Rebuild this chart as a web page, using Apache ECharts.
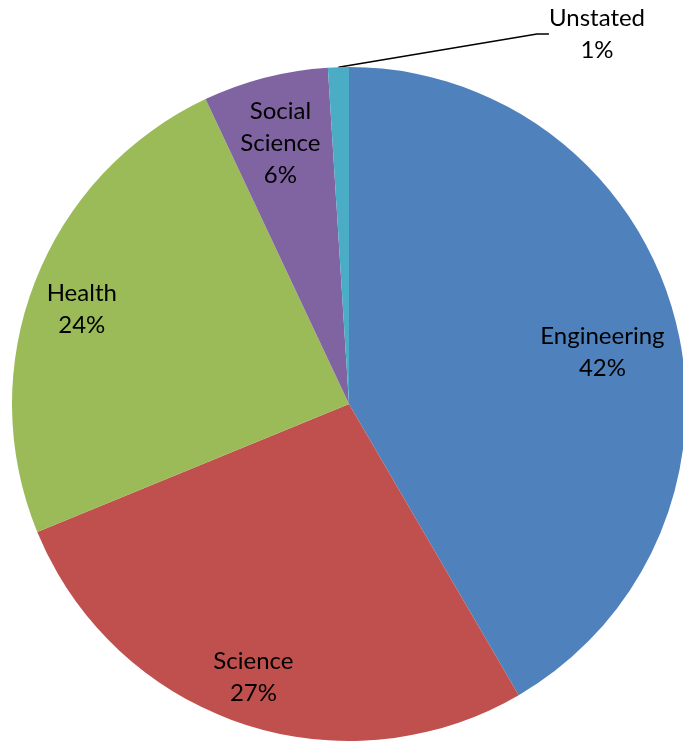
<!DOCTYPE html>
<html>
<head>
<meta charset="utf-8">
<script src="https://cdn.jsdelivr.net/npm/echarts@6/dist/echarts.min.js"></script>
<style>
html,body{margin:0;padding:0;background:#fff;}
#chart{width:683px;height:741px;}
</style>
</head>
<body>
<div id="chart"></div>
<script>
const categories = ['Engineering', 'Science', 'Health', 'Social Science', 'Unstated'];
const values = [41.6, 27.2, 24.2, 6.0, 1.0];
const colors = ['#4F81BD', '#C0504D', '#9BBB59', '#8064A2', '#4BACC6'];

// label nudges (layout only)
const labelNudge = {
  'Engineering': [-13, 20],
  'Science': [-7, 12],
  'Health': [-10, 5],
  'Social Science': [0, 7]
};

const FONT = 'Lato';
const CENTER = [349, 404];
const R = 337;

const chart = echarts.init(document.getElementById('chart'), null, {renderer: 'canvas'});

const pieData = categories.map((c, i) => ({
  name: c, value: values[i], itemStyle: {color: colors[i]}
}));

const labelData = categories.map((c, i) => {
  const d = {name: c, value: values[i]};
  if (c === 'Unstated') {
    d.label = {position: 'outside'};
    d.labelLine = {show: true, length: 20, length2: 12, lineStyle: {color: '#000', width: 1.6}};
  } else if (labelNudge[c]) {
    d.label = {offset: labelNudge[c]};
  }
  return d;
});

chart.setOption({
  animation: false,
  series: [
    {
      type: 'pie',
      center: CENTER,
      radius: [0, R],
      startAngle: 90,
      clockwise: true,
      silent: true,
      label: {show: false},
      labelLine: {show: false},
      itemStyle: {borderWidth: 0},
      data: pieData
    },
    {
      type: 'pie',
      center: CENTER,
      radius: [R * 0.62, R],
      startAngle: 90,
      clockwise: true,
      silent: true,
      percentPrecision: 0,
      itemStyle: {color: 'rgba(0,0,0,0)', borderWidth: 0},
      label: {
        show: true,
        position: 'inside',
        formatter: p => p.name.replace(' ', '\n') + '\n' + p.percent + '%',
        fontFamily: FONT,
        fontSize: 24,
        lineHeight: 32,
        color: '#000',
        align: 'center'
      },
      labelLine: {show: false},
      labelLayout: function (params) {
        if (params.dataIndex === 4) {
          return {x: 597, y: 34, align: 'center', verticalAlign: 'middle'};
        }
        return {};
      },
      data: labelData
    }
  ]
});
</script>
</body>
</html>
